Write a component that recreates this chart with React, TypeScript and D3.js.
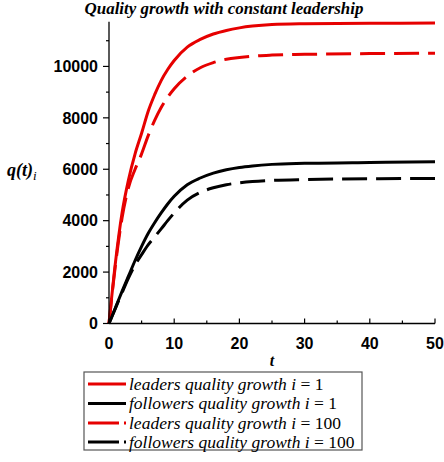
import React from "react";
import * as d3 from "d3";

const tValues = [0, 1, 2, 3, 4, 5, 6, 7, 8, 9, 10, 12, 14, 16, 18, 20, 22, 25, 30, 40, 50];
const leaders1 = [0, 2400, 4300, 5600, 6600, 7400, 8250, 8900, 9450, 9880, 10230, 10750, 11050, 11260, 11400, 11500, 11570, 11630, 11660, 11680, 11685];
const followers1 = [0, 620, 1250, 1850, 2450, 3000, 3500, 3920, 4300, 4650, 4950, 5400, 5660, 5850, 5980, 6070, 6130, 6190, 6230, 6265, 6290];
const leaders100 = [0, 2300, 4100, 5300, 6000, 6600, 7300, 7900, 8400, 8800, 9130, 9620, 9950, 10150, 10280, 10350, 10400, 10440, 10470, 10500, 10515];
const followers100 = [0, 600, 1200, 1780, 2280, 2680, 3060, 3370, 3680, 4000, 4300, 4800, 5100, 5280, 5400, 5470, 5520, 5565, 5600, 5630, 5640];

const xTicks = [0, 10, 20, 30, 40, 50];
const xMinorTicks = [5, 15, 25, 35, 45];
const yTicks = [0, 2000, 4000, 6000, 8000, 10000];
const yMinorTicks = [1000, 3000, 5000, 7000, 9000, 11000];

const title = "Quality growth with constant leadership";
const legendLabels = [
  { text: "leaders quality growth ", num: "1" },
  { text: "followers quality growth ", num: "1" },
  { text: "leaders quality growth ", num: "100" },
  { text: "followers quality growth ", num: "100" },
];

const RED = "#e60000";
const BLACK = "#000000";

export default function App() {
  const x = d3.scaleLinear().domain([0, 50]).range([109, 435]);
  const y = d3.scaleLinear().domain([0, 11740]).range([323.5, 21.7]);

  const series = [
    { data: leaders1, color: RED, dash: undefined as string | undefined },
    { data: followers1, color: BLACK, dash: undefined as string | undefined },
    { data: leaders100, color: RED, dash: "25 9" },
    { data: followers100, color: BLACK, dash: "25 9" },
  ];

  const line = (vals: number[]) =>
    d3
      .line<number>()
      .x((_, i) => x(tValues[i]))
      .y((d) => y(d))
      .curve(d3.curveMonotoneX)(vals) || "";

  const serif = "'Liberation Serif', 'Times New Roman', serif";
  const sans = "'Liberation Sans', Arial, sans-serif";

  const legendX = 84;
  const legendY = 372;
  const legendRows = [384, 403.5, 423, 442];

  return (
    <svg
      width={444}
      height={462}
      style={{ position: "absolute", left: 0, top: 0, background: "#fff" }}
    >
      <rect x={0} y={0} width={444} height={462} fill="#fff" />
      <text
        x={224}
        y={14}
        textAnchor="middle"
        fontFamily={serif}
        fontStyle="italic"
        fontWeight="bold"
        fontSize={16.9}
      >
        {title}
      </text>

      {/* curves */}
      {series.map((s, i) => (
        <path
          key={i}
          d={line(s.data)}
          fill="none"
          stroke={s.color}
          strokeWidth={3}
          strokeDasharray={s.dash}
        />
      ))}

      {/* axes */}
      <line x1={x(0)} x2={x(0)} y1={y(0)} y2={y.range()[1]} stroke="#000" strokeWidth={1.3} />
      <line x1={x(0)} x2={x(50)} y1={y(0)} y2={y(0)} stroke="#000" strokeWidth={1.3} />
      {yTicks.map((t) => (
        <g key={"y" + t}>
          <line x1={x(0) - 6} x2={x(0)} y1={y(t)} y2={y(t)} stroke="#000" strokeWidth={1.2} />
          <text
            x={98}
            y={y(t)}
            dy="0.36em"
            textAnchor="end"
            fontFamily={sans}
            fontWeight="bold"
            fontSize={16}
          >
            {t}
          </text>
        </g>
      ))}
      {yMinorTicks.map((t) => (
        <line key={"ym" + t} x1={x(0) - 3} x2={x(0)} y1={y(t)} y2={y(t)} stroke="#000" strokeWidth={1.2} />
      ))}
      {xTicks.map((t) => (
        <g key={"x" + t}>
          <line x1={x(t)} x2={x(t)} y1={y(0)} y2={y(0) - 5} stroke="#000" strokeWidth={1.2} />
          <text
            x={x(t)}
            y={349}
            textAnchor="middle"
            fontFamily={sans}
            fontWeight="bold"
            fontSize={16}
          >
            {t}
          </text>
        </g>
      ))}
      {xMinorTicks.map((t) => (
        <line key={"xm" + t} x1={x(t)} x2={x(t)} y1={y(0)} y2={y(0) - 3} stroke="#000" strokeWidth={1.2} />
      ))}

      {/* axis labels */}
      <text x={7} y={176} fontFamily={serif} fontStyle="italic" fontWeight="bold" fontSize={18}>
        {"q(t)"}
        <tspan dy={4} fontSize={13} fontWeight="normal">i</tspan>
      </text>
      <text
        x={272}
        y={366}
        textAnchor="middle"
        fontFamily={serif}
        fontStyle="italic"
        fontWeight="bold"
        fontSize={16}
      >
        t
      </text>

      {/* legend */}
      <rect x={legendX} y={legendY} width={278} height={78} fill="#fff" stroke="#555" strokeWidth={1.2} />
      {legendLabels.map((l, i) => (
        <g key={"l" + i}>
          <line
            x1={88}
            x2={126}
            y1={legendRows[i]}
            y2={legendRows[i]}
            stroke={series[i].color}
            strokeWidth={3}
            strokeDasharray={series[i].dash ? "31 5" : undefined}
          />
          <text x={129} y={legendRows[i]} dy="0.33em" fontFamily={serif} fontSize={17.5}>
            <tspan fontStyle="italic">{l.text}</tspan>
            <tspan fontStyle="italic">i</tspan>
            <tspan>{" = " + l.num}</tspan>
          </text>
        </g>
      ))}
    </svg>
  );
}
